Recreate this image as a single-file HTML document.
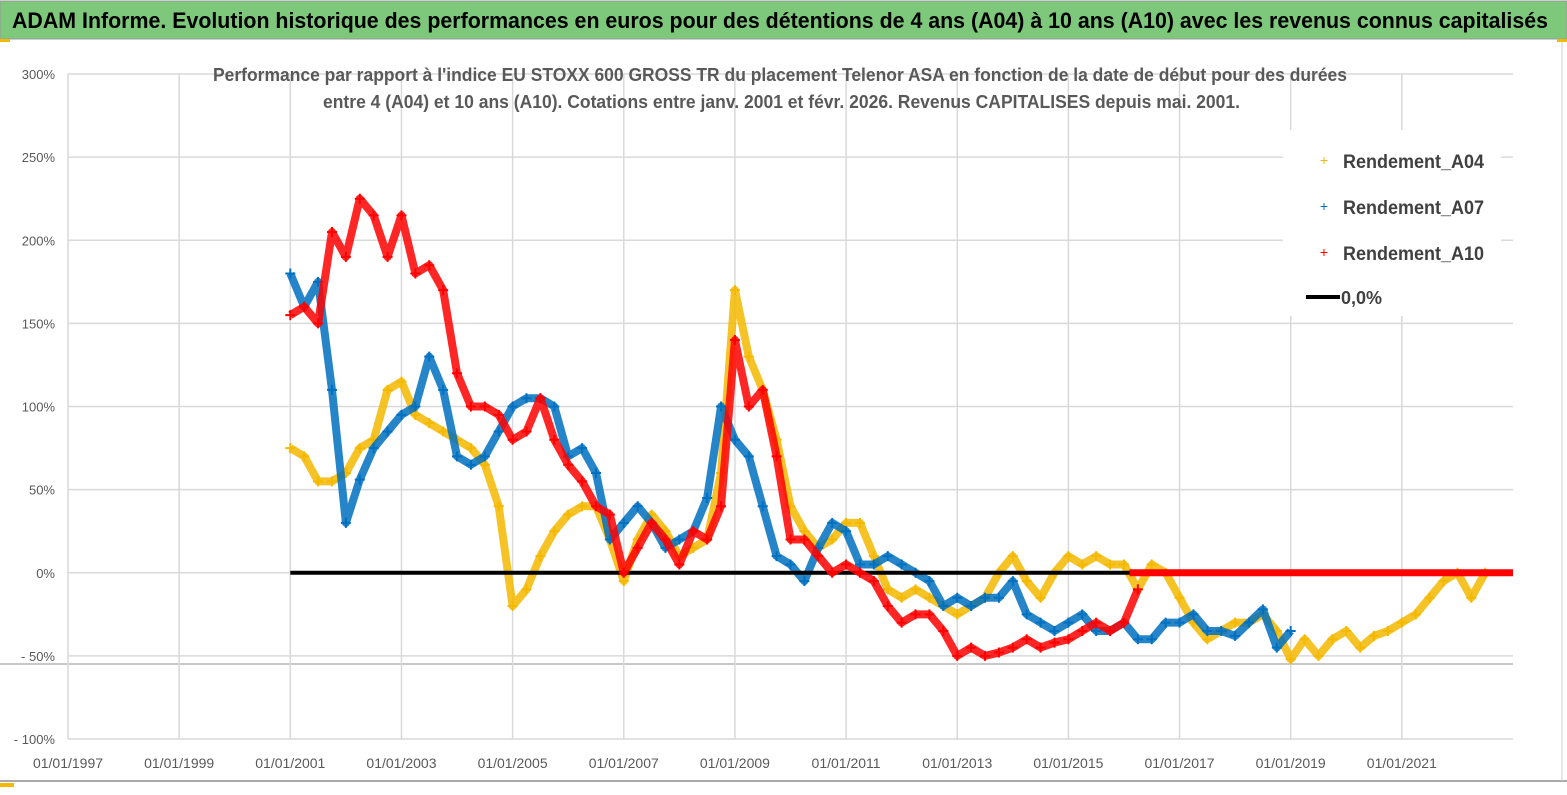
<!DOCTYPE html>
<html><head><meta charset="utf-8"><style>
body{margin:0;background:#fff;width:1567px;height:790px;overflow:hidden;font-family:"Liberation Sans",sans-serif}
svg text{font-family:"Liberation Sans",sans-serif}
</style></head><body>
<svg id="chart" width="1567" height="790" xmlns="http://www.w3.org/2000/svg">
<rect x="0" y="0" width="1567" height="790" fill="#fff"/>
<rect x="0" y="1" width="1567" height="38" fill="#7dc87b" stroke="#9a9a9a"/>
<text x="12" y="28" textLength="1536" lengthAdjust="spacingAndGlyphs" font-size="22" font-weight="bold" fill="#000">ADAM Informe. Evolution historique des performances en euros pour des détentions de 4 ans (A04) à 10 ans (A10) avec les revenus connus capitalisés</text>
<rect x="0" y="39" width="10" height="3" fill="#f5b800"/>
<rect x="1557" y="39" width="10" height="3" fill="#f5b800"/>
<line x1="0" y1="781" x2="1567" y2="781" stroke="#aaa" stroke-width="2"/>
<rect x="0" y="783" width="14" height="4" fill="#f5b800"/>
<line x1="1562" y1="42" x2="1562" y2="781" stroke="#ccc"/>
<g id="grid"></g>
<g id="marks"></g>
<text x="213" y="81" textLength="1134" lengthAdjust="spacingAndGlyphs" font-size="18" font-weight="bold" fill="#595959">Performance par rapport à l'indice EU STOXX 600 GROSS TR  du placement Telenor ASA en fonction de la date de début pour des durées</text>
<text x="323" y="108" textLength="917" lengthAdjust="spacingAndGlyphs" font-size="18" font-weight="bold" fill="#595959">entre 4 (A04) et 10 ans (A10). Cotations entre janv. 2001 et févr. 2026. Revenus CAPITALISES depuis mai. 2001.</text>
<g>
<rect x="1283" y="130" width="218" height="186" fill="#fff"/>
<text x="1324" y="165" font-size="14" fill="#f5b800" text-anchor="middle">+</text>
<text x="1343" y="168" textLength="141" lengthAdjust="spacingAndGlyphs" font-size="19" font-weight="bold" fill="#404040">Rendement_A04</text>
<text x="1324" y="211" font-size="14" fill="#0070c0" text-anchor="middle">+</text>
<text x="1343" y="214" textLength="141" lengthAdjust="spacingAndGlyphs" font-size="19" font-weight="bold" fill="#404040">Rendement_A07</text>
<text x="1324" y="257" font-size="14" fill="#ff0000" text-anchor="middle">+</text>
<text x="1343" y="260" textLength="141" lengthAdjust="spacingAndGlyphs" font-size="19" font-weight="bold" fill="#404040">Rendement_A10</text>
<line x1="1306" y1="297" x2="1340" y2="297" stroke="#000" stroke-width="4"/>
<text x="1341" y="304" font-size="18" font-weight="bold" fill="#404040">0,0%</text>
</g>
</svg>
<script>
const xTicks=[1997,1999,2001,2003,2005,2007,2009,2011,2013,2015,2017,2019,2021];
const yTicks=[300,250,200,150,100,50,0,-50,-100];
const yTickLabels=["300%","250%","200%","150%","100%","50%","0%","- 50%","- 100%"];
const a04Start=2001.0;
const a04=[75,70,55,55,60,75,80,110,115,95,90,85,80,75,65,40,-20,-10,10,25,35,40,40,20,-5,20,35,25,10,15,20,60,170,130,110,80,40,25,15,20,30,30,10,-10,-15,-10,-15,-20,-25,-20,-15,0,10,-5,-15,0,10,5,10,5,5,-10,5,0,-15,-30,-40,-35,-30,-30,-25,-35,-52,-40,-50,-40,-35,-45,-38,-35,-30,-25,-15,-5,0,-15,0];
const a07Start=2001.0;
const a07=[180,160,175,110,30,56,75,85,95,100,130,110,70,65,70,85,100,105,105,100,70,75,60,20,30,40,30,15,20,25,45,100,80,70,40,10,5,-5,15,30,25,5,5,10,5,0,-5,-20,-15,-20,-15,-15,-5,-25,-30,-35,-30,-25,-35,-35,-30,-40,-40,-30,-30,-25,-35,-35,-38,-30,-22,-45,-35];
const a10Start=2001.0;
const a10=[155,160,150,205,190,225,215,190,215,180,185,170,120,100,100,95,80,85,105,80,65,55,40,35,0,15,30,20,5,25,20,40,140,100,110,70,20,20,10,0,5,0,-5,-20,-30,-25,-25,-35,-50,-45,-50,-48,-45,-40,-45,-42,-40,-35,-30,-35,-30,-10];
const a10FlatStart=2016.1, a10FlatEnd=2023.0, a10FlatValue=0;
const zeroStart=2001.0, zeroEnd=2016.1, zeroValue=0;
const step=0.25;

const X0=68,X1=1513,Y0=74,Y1=739;
const xs=y=>X0+(y-1997)/(2023-1997)*(X1-X0);
const ys=v=>Y1-(v+100)/400*(Y1-Y0);
const NS="http://www.w3.org/2000/svg";
const grid=document.getElementById('grid'),marks=document.getElementById('marks'),svg=document.getElementById('chart');
function mk(t,a,p){const e=document.createElementNS(NS,t);for(const k in a)e.setAttribute(k,a[k]);p.appendChild(e);return e;}
yTicks.forEach((v,i)=>{
 const l=mk('line',{x1:X0,x2:X1,y1:ys(v),y2:ys(v),stroke:'#d9d9d9','stroke-width':1.5},grid);
 
 
 const t=mk('text',{x:55,y:ys(v)+5,'text-anchor':'end','font-size':13,fill:'#595959'},svg);
 t.textContent=yTickLabels[i];
 
 
});
mk('line',{x1:0,x2:X1,y1:664,y2:664,stroke:'#c8c8c8','stroke-width':2},grid);
xTicks.forEach(y=>{
 const l=mk('line',{x1:xs(y),x2:xs(y),y1:Y0,y2:Y1,stroke:'#d9d9d9','stroke-width':1.5},grid);
 
 
 const t=mk('text',{x:xs(y),y:768,'text-anchor':'middle','font-size':14,fill:'#595959'},svg);
 t.textContent='01/01/'+y;
 
 
});
function series(vals,start,color,name){
 const g=mk('g',{},marks);
 
 
 const pts=vals.map((v,i)=>[xs(start+i*step),ys(v)]);
 mk('polyline',{points:pts.map(p=>p.join(',')).join(' '),fill:'none',stroke:color,'stroke-width':8,'stroke-linejoin':'round','stroke-opacity':0.85},g);
 pts.forEach(p=>{
  const m=mk('path',{d:`M${p[0]-5},${p[1]}h10M${p[0]},${p[1]-5}v10`,stroke:color,'stroke-width':2},g);
  
  
 });
}
series(a04,a04Start,'#f5b800','series-a04');
series(a07,a07Start,'#0070c0','series-a07');
const z=mk('line',{x1:xs(zeroStart),x2:xs(zeroEnd),y1:ys(zeroValue),y2:ys(zeroValue),stroke:'#000','stroke-width':4},marks);


series(a10,a10Start,'#ff0000','series-a10');
const f=mk('line',{x1:xs(a10FlatStart),x2:xs(a10FlatEnd),y1:ys(a10FlatValue),y2:ys(a10FlatValue),stroke:'#ff0000','stroke-width':7},marks);


</script>
</body></html>
